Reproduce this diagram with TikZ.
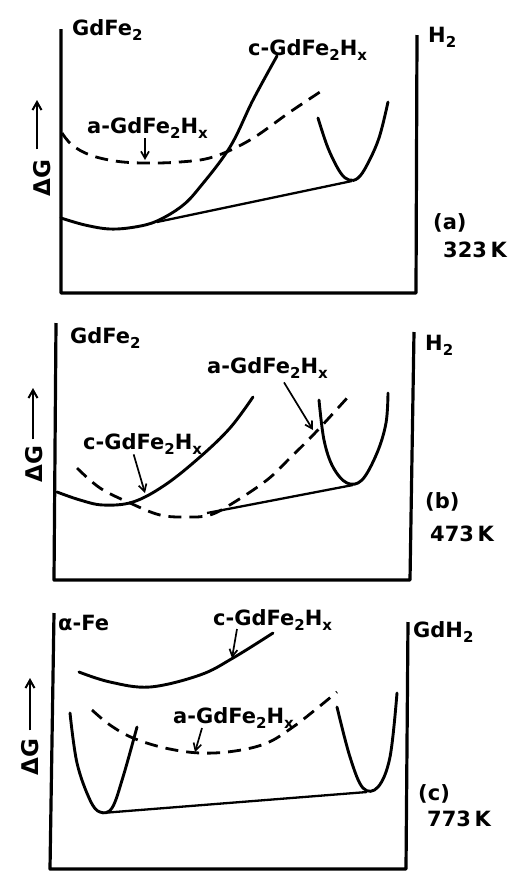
\documentclass[tikz,border=0pt]{standalone}
\usepackage{fontspec}
\setmainfont{DejaVu Sans}
\usetikzlibrary{arrows.meta,positioning}
\newcommand{\lowsub}[1]{\raisebox{-0.45ex}{\fontsize{15}{15}\selectfont #1}}
\newcommand{\phase}[1]{#1-GdFe\lowsub{2}H\lowsub{x}}

\begin{document}
\begin{tikzpicture}[
  x=1pt, y=-1pt,
  font=\fontsize{21}{24}\selectfont\bfseries,
  axis/.style={line width=3.2pt, line join=round},
  curve/.style={line width=2.9pt, line cap=round},
  tangent/.style={line width=2.3pt},
  meta/.style={line width=2.8pt, dash pattern=on 13pt off 8pt},
  lbl/.style={inner sep=0pt, anchor=base west},
  temp/.style={inner sep=0pt},
  pointer/.style={line width=1.7pt, -{Straight Barb[length=7pt,width=8pt]}},
  dg/.style={rotate=90, inner sep=0pt, font=\fontsize{23}{24}\selectfont\bfseries},
  dgarrow/.style={line width=2pt, -{Straight Barb[length=8pt,width=9pt]}}
]
\useasboundingbox (0,0) rectangle (511,871);

% (a) 323 K
\draw[axis] (61,29) -- (61,293) -- (416,293) -- (417,35);
\node[lbl] (ga) at (72,35) {GdFe\lowsub{2}};
\node[lbl] (ha) at (428,42) {H\lowsub{2}};
\node[lbl] (ca) at (248,55) {\phase{c}};
\node[lbl] (aa) at (87,133) {\phase{a}};
\node[lbl] (pa) at (433,229) {(a)};
\node[temp, below right=10pt and 10pt of pa.south west] (ka) {323\,K};
\node[dg] (dga) at (42,178) {ΔG};
\coordinate (dgta) at (37,100);
\coordinate (aina) at (145,160);
\draw[dgarrow] (dga.east -| dgta) ++(0,-10) -- (dgta);
\draw[pointer] (aa.south -| aina) -- (aina);
\draw[curve] plot[smooth, tension=0.6] coordinates
  {(61,218) (85,225) (110,229) (135,227) (157,221) (182,206) (200,187)
   (230,147) (253,100) (277,56)};
\draw[meta] plot[smooth, tension=0.6] coordinates
  {(62,133) (72,145) (90,155) (115,161) (143,163) (180,162) (213,157)
   (250,140) (290,112) (323,90)};
\draw[tangent] (157,222) -- (352,181);
\draw[curve] plot[smooth, tension=0.6] coordinates
  {(318,118) (328,148) (340,172) (349,180) (358,178) (367,165) (379,138)
   (388,102)};

% (b) 473 K
\draw[axis] (56,323) -- (54,580) -- (410,580) -- (414,332);
\node[lbl] (gb) at (70,343) {GdFe\lowsub{2}};
\node[lbl] (hb) at (425,350) {H\lowsub{2}};
\node[lbl] (ab) at (207,373) {\phase{a}};
\node[lbl] (cb) at (83,449) {\phase{c}};
\node[lbl] (pb) at (425,508) {(b)};
\node[temp, below right=15pt and 5pt of pb.south west] (kb) {473\,K};
\node[dg] (dgb) at (34,464) {ΔG};
\coordinate (dgtb) at (33,388);
\coordinate (ainb) at (313,430);
\coordinate (cinb) at (145,493);
\draw[dgarrow] (dgb.east -| dgtb) ++(0,-6) -- (dgtb);
\draw[pointer] ([xshift=-4pt]ab.south east) ++(-40,4) -- (ainb);
\draw[pointer] (cb.south) ++(-9,0) -- (cinb);
\draw[curve] plot[smooth, tension=0.6] coordinates
  {(57,492) (80,500) (103,505) (133,502) (165,485) (200,457) (230,428)
   (253,397)};
\draw[meta] plot[smooth, tension=0.6] coordinates
  {(77,468) (100,488) (130,503) (160,515) (187,517) (210,515) (233,503)
   (267,480) (290,458) (315,433) (348,397)};
\draw[tangent] (207,513) -- (353,485);
\draw[curve] plot[smooth, tension=0.6] coordinates
  {(319,400) (324,440) (333,467) (347,483) (362,480) (377,453) (386,423)
   (388,393)};

% (c) 773 K
\draw[axis] (54,613) -- (50,869) -- (406,869) -- (408,622);
\node[lbl] (gc) at (58,630) {α-Fe};
\node[lbl] (hc) at (413,637) {GdH\lowsub{2}};
\node[lbl] (cc) at (213,625) {\phase{c}};
\node[lbl] (ac) at (173,723) {\phase{a}};
\node[lbl] (pc) at (418,800) {(c)};
\node[temp, below right=8pt and 9pt of pc.south west] (kc) {773\,K};
\node[dg] (dgc) at (30,757) {ΔG};
\coordinate (dgtc) at (30,678);
\coordinate (cinc) at (232,658);
\coordinate (ainc) at (195,752);
\draw[dgarrow] (dgc.east -| dgtc) ++(0,-8) -- (dgtc);
\draw[pointer] (237,629) -- (cinc);
\draw[pointer] (202,728) -- (ainc);
\draw[curve] plot[smooth, tension=0.6] coordinates
  {(79,672) (110,682) (150,687) (200,675) (233,658) (273,633)};
\draw[meta] plot[smooth, tension=0.6] coordinates
  {(92,710) (110,725) (133,738) (165,748) (200,753) (235,751) (267,743)
   (293,727) (315,710) (337,692)};
\draw[curve] plot[smooth, tension=0.6] coordinates
  {(70,713) (77,763) (90,800) (100,812) (112,808) (123,777) (137,727)};
\draw[curve] plot[smooth, tension=0.6] coordinates
  {(337,707) (350,757) (363,788) (378,787) (390,757) (397,693)};
\draw[tangent] (102,813) -- (367,792);
\end{tikzpicture}
\end{document}
